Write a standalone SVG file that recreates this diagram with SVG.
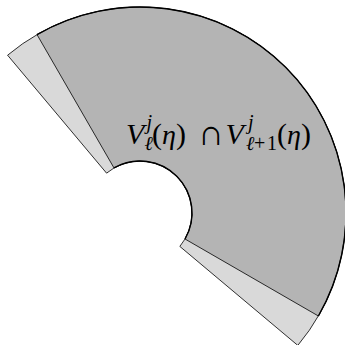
<svg xmlns="http://www.w3.org/2000/svg" width="345" height="345" viewBox="0 0 345 345">
<style>
.light{fill:#d9d9d9;stroke:#000;stroke-width:0.8;stroke-linejoin:round}
.dark{fill:#b4b4b4;stroke:#000;stroke-width:0.8;stroke-linejoin:round}
.arc{fill:none;stroke:#000;stroke-width:1.4}
.m{font-family:"Liberation Serif","DejaVu Serif",serif;fill:#000;font-size:30px}
.it{font-style:italic}
.s{font-size:20px}
.e{font-size:28px}
</style>
<rect width="345" height="345" fill="#fff"/>
<g id="sector-outer">
<path class="light" d="M 7.59 55.2 A 206 206 0 0 1 297.8 345.41 L 179.83 246.43 A 52 52 0 0 0 106.57 173.17 Z"/>
</g>
<g id="sector-inner">
<path class="dark" d="M 37 34.6 A 206 206 0 0 1 318.4 316 L 185.03 239 A 52 52 0 0 0 114 167.97 Z"/>
<path class="arc" d="M 37 34.6 A 206 206 0 0 1 318.4 316"/>
<path class="arc" d="M 185.03 239 A 52 52 0 0 0 114 167.97"/>
</g>
<g id="label">
<text class="m"><tspan class="it" x="126" y="144">V</tspan><tspan class="it s" x="146.5" y="129">j</tspan><tspan class="it s" x="144.5" y="150">ℓ</tspan><tspan x="152" y="144">(</tspan><tspan class="it e" x="162" y="144">η</tspan><tspan x="176" y="144">)</tspan><tspan font-size="36" x="198" y="145">∩</tspan><tspan class="it" x="225.5" y="144">V</tspan><tspan class="it s" x="248" y="129">j</tspan><tspan class="it s" x="246" y="150">ℓ</tspan><tspan class="s" x="254" y="150">+</tspan><tspan class="s" x="267" y="150">1</tspan><tspan x="277" y="144">(</tspan><tspan class="it e" x="287" y="144">η</tspan><tspan x="301" y="144">)</tspan></text>
</g>
</svg>
